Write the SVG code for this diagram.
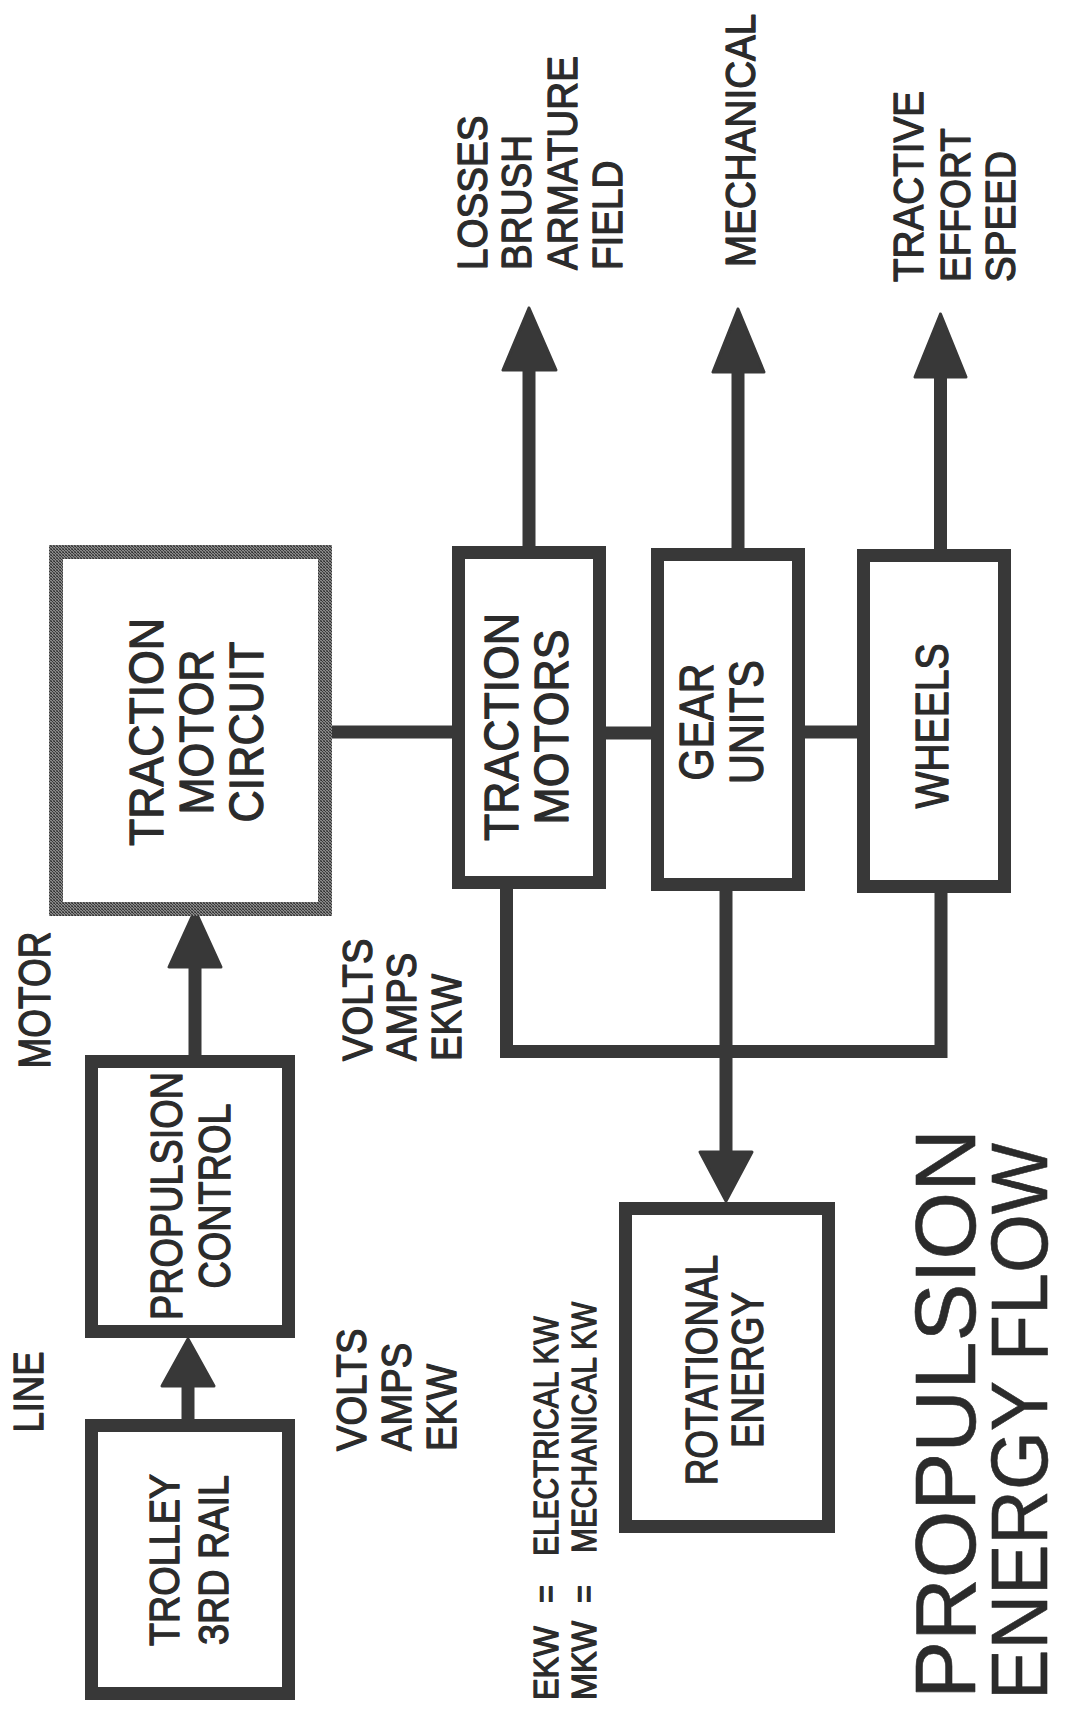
<svg xmlns="http://www.w3.org/2000/svg" width="1065" height="1710" viewBox="0 0 1065 1710">
<defs>
<pattern id="dither" width="3" height="3" patternUnits="userSpaceOnUse">
<rect width="3" height="3" fill="#8a8a8a"/>
<rect width="1" height="1" fill="#2e2e2e"/>
<rect x="1" y="1" width="1" height="1" fill="#3a3a3a"/>
<rect x="2" y="2" width="1" height="1" fill="#444"/>
<rect x="2" y="0" width="1" height="1" fill="#555"/>
<rect x="0" y="2" width="1" height="1" fill="#666"/>
</pattern>
<style>
.box{fill:#fff;stroke:#383838;stroke-width:13}
.gbox{fill:#fff;stroke:url(#dither);stroke-width:14}
.ln{fill:none;stroke:#383838;stroke-width:13}
.hd{fill:#383838;stroke:#383838;stroke-width:3;stroke-linejoin:round}
text{font-family:"Liberation Sans",Arial,Helvetica,sans-serif;fill:#2b2b2b;stroke:#2b2b2b;stroke-width:1.3;stroke-linejoin:round}
.c{text-anchor:middle}
.s{text-anchor:start}
.t{stroke-width:0.6}
</style>
</defs>
<rect width="1065" height="1710" fill="#fff"/>

<g id="connectors">
<line class="ln" x1="188" y1="1420" x2="188" y2="1378"/>
<polygon class="hd" points="188,1339 162,1386 214,1386"/>
<line class="ln" x1="195" y1="1056" x2="195" y2="960"/>
<polygon class="hd" points="195,910 169,967 221,967"/>
<line class="ln" x1="332" y1="732" x2="453" y2="732"/>
<line class="ln" x1="605" y1="733" x2="652" y2="733"/>
<line class="ln" x1="804" y1="732" x2="858" y2="732"/>
<line class="ln" x1="529" y1="547" x2="529" y2="364"/>
<polygon class="hd" points="529,308 503,370 556,370"/>
<line class="ln" x1="738" y1="549" x2="738" y2="366"/>
<polygon class="hd" points="738,309 713,372 764,372"/>
<line class="ln" x1="940.5" y1="550" x2="940.5" y2="370"/>
<polygon class="hd" points="940.5,314 915,377 966,377"/>
<path class="ln" d="M506.5 888 V1051.5 H941 V892"/>
<line class="ln" x1="726" y1="890" x2="726" y2="1158"/>
<polygon class="hd" points="726,1201 700,1152 752,1152"/>
</g>

<g id="trolley">
<rect class="box" x="91.5" y="1425.5" width="197" height="268"/>
<text class="c" font-size="42" transform="translate(0 1560) rotate(-90) scale(0.9 1)"><tspan x="0" y="179">TROLLEY</tspan><tspan x="0" y="228">3RD RAIL</tspan></text>
</g>

<g id="propulsion-control">
<rect class="box" x="91.5" y="1061.5" width="197" height="270"/>
<text class="c" font-size="44" transform="translate(0 1196) rotate(-90) scale(0.86 1)"><tspan x="0" y="182">PROPULSION</tspan><tspan x="0" y="230">CONTROL</tspan></text>
</g>

<g id="traction-motor-circuit">
<rect class="gbox" x="56" y="552" width="269" height="357"/>
<text class="c" font-size="49" transform="translate(0 732) rotate(-90) scale(0.91 1)"><tspan x="0" y="163">TRACTION</tspan><tspan x="0" y="213">MOTOR</tspan><tspan x="0" y="263">CIRCUIT</tspan></text>
</g>

<g id="traction-motors">
<rect class="box" x="458.5" y="552.5" width="141" height="330"/>
<text class="c" font-size="49" transform="translate(0 727) rotate(-90) scale(0.91 1)"><tspan x="0" y="518">TRACTION</tspan><tspan x="0" y="568">MOTORS</tspan></text>
</g>

<g id="gear-units">
<rect class="box" x="657.5" y="554.5" width="141" height="330"/>
<text class="c" font-size="48" transform="translate(0 722) rotate(-90) scale(0.86 1)"><tspan x="0" y="713">GEAR</tspan><tspan x="0" y="763">UNITS</tspan></text>
</g>

<g id="wheels">
<rect class="box" x="863.5" y="555.5" width="141" height="331"/>
<text class="c" font-size="46" transform="translate(0 726) rotate(-90) scale(0.85 1)"><tspan x="0" y="948">WHEELS</tspan></text>
</g>

<g id="rotational-energy">
<rect class="box" x="625.5" y="1208.5" width="203" height="318"/>
<text class="c" font-size="44" transform="translate(0 1370) rotate(-90) scale(0.84 1)"><tspan x="0" y="717">ROTATIONAL</tspan><tspan x="0" y="763">ENERGY</tspan></text>
</g>

<g id="labels">
<text class="c" font-size="42" transform="translate(0 1392) rotate(-90) scale(0.87 1)"><tspan x="0" y="43">LINE</tspan></text>
<text class="c" font-size="44" transform="translate(0 1000) rotate(-90) scale(0.84 1)"><tspan x="0" y="50">MOTOR</tspan></text>
<text class="s" font-size="42" transform="translate(0 1061) rotate(-90) scale(0.91 1)"><tspan x="0" y="372">VOLTS</tspan><tspan x="0" y="416">AMPS</tspan><tspan x="0" y="461">EKW</tspan></text>
<text class="s" font-size="42" transform="translate(0 1451) rotate(-90) scale(0.91 1)"><tspan x="0" y="366">VOLTS</tspan><tspan x="0" y="411">AMPS</tspan><tspan x="0" y="456">EKW</tspan></text>
<text class="s" font-size="42" transform="translate(0 270) rotate(-90) scale(0.92 1)"><tspan x="0" y="487">LOSSES</tspan><tspan x="0" y="531">BRUSH</tspan><tspan x="0" y="577">ARMATURE</tspan><tspan x="0" y="622">FIELD</tspan></text>
<text class="s" font-size="42" transform="translate(0 267) rotate(-90) scale(0.92 1)"><tspan x="0" y="755">MECHANICAL</tspan></text>
<text class="s" font-size="42" transform="translate(0 282) rotate(-90) scale(0.92 1)"><tspan x="0" y="923">TRACTIVE</tspan><tspan x="0" y="970">EFFORT</tspan><tspan x="0" y="1015">SPEED</tspan></text>
</g>

<g id="legend">
<text class="s" font-size="36" transform="translate(0 1700) rotate(-90) scale(0.9 1)"><tspan x="0" y="558">EKW</tspan><tspan x="0" y="596">MKW</tspan></text>
<text class="c" font-size="36" transform="translate(0 1594) rotate(-90) scale(0.85 1)"><tspan x="0" y="558">=</tspan><tspan x="0" y="596">=</tspan></text>
<text class="s" font-size="36" transform="translate(0 1556) rotate(-90) scale(0.83 1)"><tspan x="0" y="558">ELECTRICAL KW</tspan></text>
<text class="s" font-size="36" transform="translate(0 1553) rotate(-90) scale(0.83 1)"><tspan x="0" y="596">MECHANICAL KW</tspan></text>
</g>

<g id="title">
<text class="s t" font-size="86" transform="translate(0 1699) rotate(-90)"><tspan x="0" y="975" textLength="570" lengthAdjust="spacingAndGlyphs">PROPULSION</tspan></text>
<text class="s t" font-size="80" transform="translate(0 1700) rotate(-90)"><tspan x="0" y="1047" textLength="557" lengthAdjust="spacingAndGlyphs">ENERGY FLOW</tspan></text>
</g>
</svg>
